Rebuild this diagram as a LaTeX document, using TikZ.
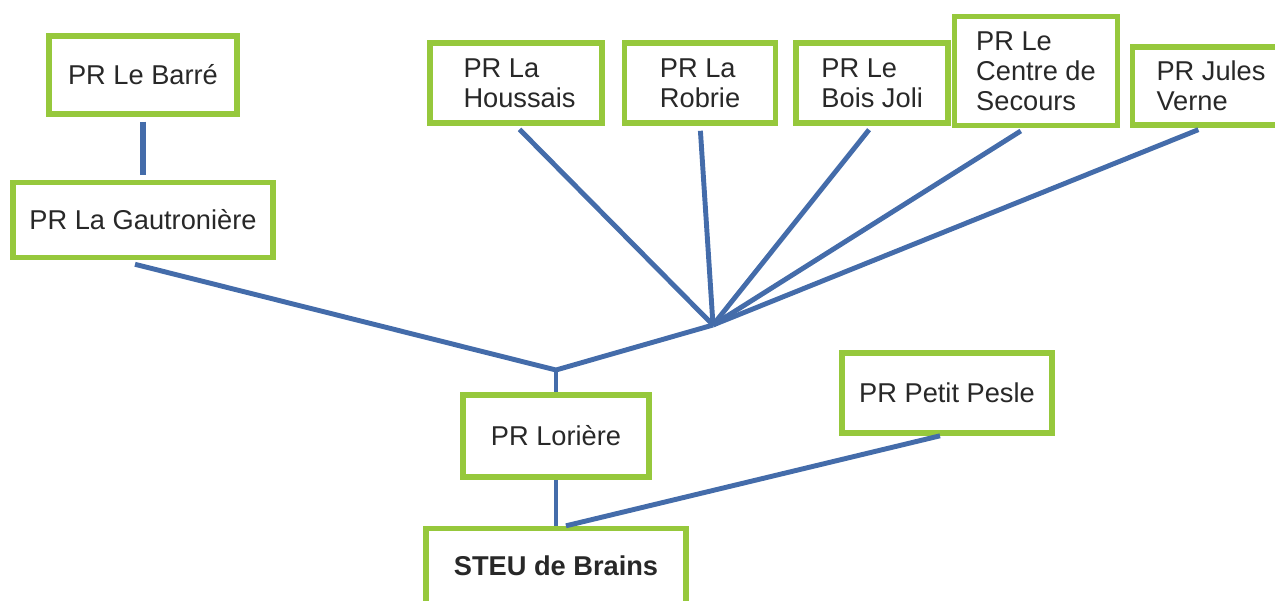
\documentclass[tikz,border=0pt]{standalone}
\usepackage{fontspec}
\setmainfont{Liberation Sans}
\usetikzlibrary{positioning}
\definecolor{boxgreen}{RGB}{150,200,60}
\definecolor{pipeblue}{RGB}{68,108,170}
\definecolor{textgray}{RGB}{40,40,40}

\begin{document}
\begin{tikzpicture}[
                x=0.02cm, y=-0.02cm,
                station/.style={rectangle, draw=boxgreen, line width=3.2pt, fill=white, text=textgray, font=\fontsize{15.5}{17}\selectfont, align=left, inner sep=0pt},
                pipe/.style={draw=pipeblue, line width=2.8pt},
                feeder/.style={pipe, shorten >=0.1cm}
            ]
                \useasboundingbox (0,0) rectangle (1275,600);

                \node[station, minimum width=5.2cm, minimum height=1.5cm] (gautro) at (143,220) {PR La Gautronière};
                \node[station, minimum width=3.76cm, minimum height=1.56cm, above=1.26cm of gautro] (barre) {PR Le Barré};
                \node[station, minimum width=3.44cm, minimum height=1.6cm] (houssais) at (516,83) {\hspace*{0.14cm}PR La\\\hspace*{0.14cm}Houssais};
                \node[station, minimum width=3.02cm, minimum height=1.6cm, right=0.34cm of houssais] (robrie) {PR La\\Robrie};
                \node[station, minimum width=3.04cm, minimum height=1.6cm, right=0.3cm of robrie] (boisjoli) {PR Le\\Bois Joli};
                \node[station, minimum width=3.26cm, minimum height=2.18cm] (centre) at (1036,71) {PR Le\\Centre de\\Secours};
                \node[station, minimum width=3.14cm, minimum height=1.56cm] (jules) at (1211,86) {PR Jules\\Verne};
                \node[station, minimum width=3.72cm, minimum height=1.64cm] (loriere) at (556,436) {PR Lorière};
                \node[station, minimum width=4.2cm, minimum height=1.6cm] (petitpesle) at (947,393) {PR Petit Pesle};
                \node[station, minimum width=5.2cm, minimum height=1.5cm, below=0.92cm of loriere, font=\fontsize{15.5}{17}\selectfont\bfseries] (steu) {STEU de Brains};

                \coordinate (junction) at (556,370);
                \coordinate (hub) at (713,325);

                \draw[pipe, line width=3.4pt, shorten <=0.1cm, shorten >=0.1cm] (barre) -- (gautro);
                \draw[pipe] ([xshift=-0.16cm, yshift=-0.08cm]gautro.south) -- (junction) -- (hub);
                \draw[pipe] (junction) -- (loriere);
                \draw[pipe] (loriere) -- (steu);
                \draw[pipe] ([xshift=-0.14cm]petitpesle.south) -- ([xshift=0.2cm]steu.north);

                \draw[feeder] (hub) -- (houssais.south);
                \draw[feeder] (hub) -- (robrie.south);
                \draw[feeder] (hub) -- (boisjoli.south);
                \draw[feeder] (hub) -- ([xshift=-0.22cm]centre.south);
                \draw[feeder] (hub) -- ([xshift=-0.16cm]jules.south);
            \end{tikzpicture}
\end{document}
